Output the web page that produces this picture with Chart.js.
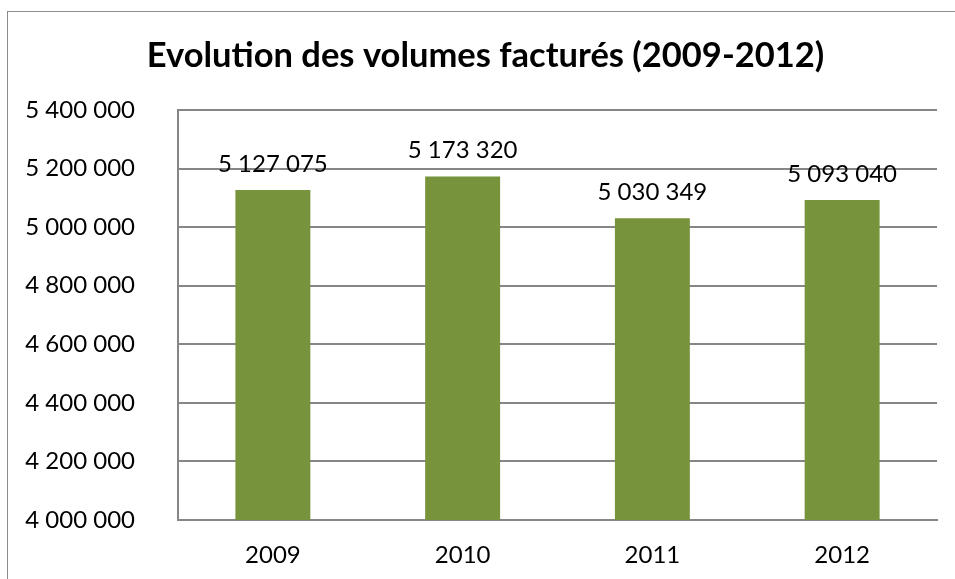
<!DOCTYPE html>
<html>
<head>
<meta charset="utf-8">
<script src="https://cdn.jsdelivr.net/npm/chart.js@4/dist/chart.umd.min.js"></script>
<style>
  html, body { margin: 0; padding: 0; background: #fff; }
  #wrap { position: relative; width: 955px; height: 579px; overflow: hidden; }
  #frame { position: absolute; left: 7px; top: 11px; width: 960px; height: 580px;
           border-top: 1px solid #8c8c8c; border-left: 1px solid #8c8c8c; pointer-events: none; }
  canvas { position: absolute; left: 0; top: 0; }
</style>
</head>
<body>
<div id="wrap">
  <canvas id="c" width="955" height="579"></canvas>
  <div id="frame"></div>
</div>
<script>
const categories = ["2009", "2010", "2011", "2012"];
const volumes = [5127075, 5173320, 5030349, 5093040];
const yMin = 4000000;
const yMax = 5400000;
const yStep = 200000;
const chartTitle = "Evolution des volumes facturés (2009-2012)";

function fmt(v) {
  return String(v).replace(/\B(?=(\d{3})+(?!\d))/g, ' ');
}

const FONT = "Lato";

const valueLabels = {
  id: 'valueLabels',
  afterDatasetsDraw(chart) {
    const ctx = chart.ctx;
    const meta = chart.getDatasetMeta(0);
    ctx.save();
    ctx.font = "24px " + FONT;
    ctx.fillStyle = "#000";
    ctx.textAlign = "center";
    ctx.textBaseline = "middle";
    meta.data.forEach((bar, i) => {
      ctx.fillText(fmt(chart.data.datasets[0].data[i]), bar.x, bar.y - 26);
    });
    ctx.restore();
  }
};

// Title drawn centred on the chart frame (which starts at x=7), as in the original
const frameTitle = {
  id: 'frameTitle',
  afterDraw(chart) {
    const ctx = chart.ctx;
    ctx.save();
    ctx.font = "bold 34.5px " + FONT;
    ctx.fillStyle = "#000";
    ctx.textAlign = "center";
    ctx.textBaseline = "middle";
    ctx.fillText(chartTitle, 485.5, 55.5);
    ctx.restore();
  }
};

new Chart(document.getElementById('c'), {
  type: 'bar',
  data: {
    labels: categories,
    datasets: [{
      data: volumes,
      backgroundColor: '#77933C',
      borderWidth: 0,
      barPercentage: 0.395,
      categoryPercentage: 1.0
    }]
  },
  options: {
    responsive: false,
    animation: false,
    devicePixelRatio: 1,
    layout: { padding: { left: 0, right: 18, top: 110, bottom: 0 } },
    plugins: {
      legend: { display: false },
      tooltip: { enabled: false },
      title: { display: false }
    },
    scales: {
      x: {
        grid: { display: false, drawTicks: false },
        border: { display: true, color: '#868686', width: 2 },
        ticks: { color: '#000', font: { family: FONT, size: 24, lineHeight: 1.2 }, padding: 21 },
        afterFit: (s) => { s.height = 59; }
      },
      y: {
        min: yMin,
        max: yMax,
        grid: { color: '#868686', lineWidth: 2, drawTicks: false },
        border: { display: true, color: '#868686', width: 2 },
        ticks: {
          stepSize: yStep,
          color: '#000',
          font: { family: FONT, size: 24, lineHeight: 1.2 },
          padding: 43,
          callback: (v) => fmt(v)
        },
        afterFit: (s) => { s.width = 178; }
      }
    }
  },
  plugins: [valueLabels, frameTitle]
});
</script>
</body>
</html>
